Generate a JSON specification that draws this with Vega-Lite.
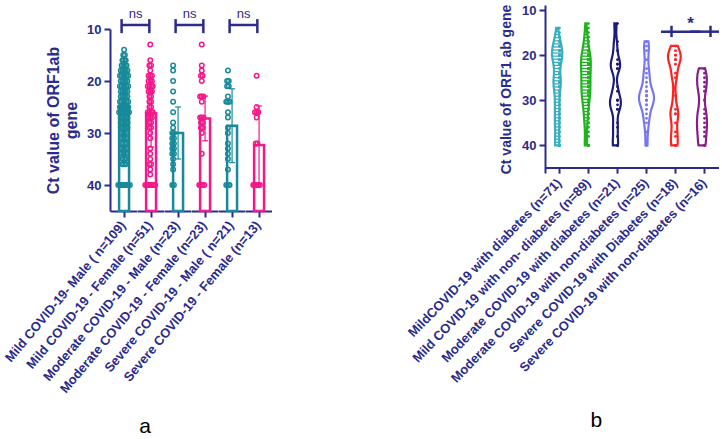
{
"$schema":"https://vega.github.io/schema/vega-lite/v6.json",
"background":"white",
"padding":{"left":3,"top":3,"right":3,"bottom":3},
"config":{"view":{"stroke":null},"font":"Liberation Sans","axis":{"grid":false}},
"spacing":134,
"resolve":{"scale":{"color":"independent","stroke":"independent"}},
"datasets":{
"L":[
{"k":"b","g":"A","m":25.0,"lo":19.5,"hi":30.5},{"k":"b","g":"B","m":26.2,"lo":19.7,"hi":32.7},{"k":"b","g":"C","m":30.0,"lo":25.0,"hi":35.0},{"k":"b","g":"D","m":27.2,"lo":22.9,"hi":31.5},{"k":"b","g":"E","m":28.6,"lo":21.5,"hi":35.7},{"k":"b","g":"F","m":32.3,"lo":24.8,"hi":39.8},
{"k":"r","g":"A","lab":"ns"},{"k":"r","g":"C","lab":"ns"},{"k":"r","g":"E","lab":"ns"},
{"k":"p","g":"A","ct":14},{"k":"p","g":"A","ct":15},{"k":"p","g":"A","ct":15},{"k":"p","g":"A","ct":16},{"k":"p","g":"A","ct":16},{"k":"p","g":"A","ct":16},{"k":"p","g":"A","ct":17},{"k":"p","g":"A","ct":17},{"k":"p","g":"A","ct":17},{"k":"p","g":"A","ct":17},
{"k":"p","g":"A","ct":18},{"k":"p","g":"A","ct":18},{"k":"p","g":"A","ct":18},{"k":"p","g":"A","ct":18},{"k":"p","g":"A","ct":18},{"k":"p","g":"A","ct":19},{"k":"p","g":"A","ct":19},{"k":"p","g":"A","ct":19},{"k":"p","g":"A","ct":19},{"k":"p","g":"A","ct":19},{"k":"p","g":"A","ct":19},
{"k":"p","g":"A","ct":20},{"k":"p","g":"A","ct":20},{"k":"p","g":"A","ct":20},{"k":"p","g":"A","ct":20},{"k":"p","g":"A","ct":20},{"k":"p","g":"A","ct":21},{"k":"p","g":"A","ct":21},{"k":"p","g":"A","ct":21},{"k":"p","g":"A","ct":21},{"k":"p","g":"A","ct":21},{"k":"p","g":"A","ct":21},
{"k":"p","g":"A","ct":22},{"k":"p","g":"A","ct":22},{"k":"p","g":"A","ct":22},{"k":"p","g":"A","ct":22},{"k":"p","g":"A","ct":22},{"k":"p","g":"A","ct":23},{"k":"p","g":"A","ct":23},{"k":"p","g":"A","ct":23},{"k":"p","g":"A","ct":23},{"k":"p","g":"A","ct":23},
{"k":"p","g":"A","ct":24},{"k":"p","g":"A","ct":24},{"k":"p","g":"A","ct":24},{"k":"p","g":"A","ct":24},{"k":"p","g":"A","ct":24},{"k":"p","g":"A","ct":24},{"k":"p","g":"A","ct":25},{"k":"p","g":"A","ct":25},{"k":"p","g":"A","ct":25},{"k":"p","g":"A","ct":25},{"k":"p","g":"A","ct":25},{"k":"p","g":"A","ct":25},
{"k":"p","g":"A","ct":26},{"k":"p","g":"A","ct":26},{"k":"p","g":"A","ct":26},{"k":"p","g":"A","ct":26},{"k":"p","g":"A","ct":26},{"k":"p","g":"A","ct":26},{"k":"p","g":"A","ct":26},{"k":"p","g":"A","ct":27},{"k":"p","g":"A","ct":27},{"k":"p","g":"A","ct":27},{"k":"p","g":"A","ct":27},{"k":"p","g":"A","ct":27},
{"k":"p","g":"A","ct":28},{"k":"p","g":"A","ct":28},{"k":"p","g":"A","ct":28},{"k":"p","g":"A","ct":28},{"k":"p","g":"A","ct":28},{"k":"p","g":"A","ct":29},{"k":"p","g":"A","ct":29},{"k":"p","g":"A","ct":29},{"k":"p","g":"A","ct":29},{"k":"p","g":"A","ct":29},
{"k":"p","g":"A","ct":30},{"k":"p","g":"A","ct":30},{"k":"p","g":"A","ct":30},{"k":"p","g":"A","ct":30},{"k":"p","g":"A","ct":31},{"k":"p","g":"A","ct":31},{"k":"p","g":"A","ct":31},{"k":"p","g":"A","ct":31},{"k":"p","g":"A","ct":32},{"k":"p","g":"A","ct":32},{"k":"p","g":"A","ct":32},
{"k":"p","g":"A","ct":33},{"k":"p","g":"A","ct":33},{"k":"p","g":"A","ct":33},{"k":"p","g":"A","ct":33},{"k":"p","g":"A","ct":34},{"k":"p","g":"A","ct":34},{"k":"p","g":"A","ct":34},{"k":"p","g":"A","ct":34},{"k":"p","g":"A","ct":35},{"k":"p","g":"A","ct":35},{"k":"p","g":"A","ct":35},
{"k":"p","g":"A","ct":36},{"k":"p","g":"A","ct":36},{"k":"p","g":"A","ct":36},{"k":"p","g":"A","ct":40},{"k":"p","g":"A","ct":40},{"k":"p","g":"A","ct":40},{"k":"p","g":"A","ct":40},{"k":"p","g":"A","ct":40},{"k":"p","g":"A","ct":40},{"k":"p","g":"A","ct":40},{"k":"p","g":"A","ct":40},
{"k":"p","g":"B","ct":13},{"k":"p","g":"B","ct":16},{"k":"p","g":"B","ct":17},{"k":"p","g":"B","ct":17},{"k":"p","g":"B","ct":18},{"k":"p","g":"B","ct":19},{"k":"p","g":"B","ct":19},{"k":"p","g":"B","ct":19},{"k":"p","g":"B","ct":20},{"k":"p","g":"B","ct":20},{"k":"p","g":"B","ct":20},
{"k":"p","g":"B","ct":21},{"k":"p","g":"B","ct":21},{"k":"p","g":"B","ct":21},{"k":"p","g":"B","ct":21},{"k":"p","g":"B","ct":22},{"k":"p","g":"B","ct":22},{"k":"p","g":"B","ct":22},{"k":"p","g":"B","ct":23},{"k":"p","g":"B","ct":23},{"k":"p","g":"B","ct":24},{"k":"p","g":"B","ct":24},
{"k":"p","g":"B","ct":25},{"k":"p","g":"B","ct":25},{"k":"p","g":"B","ct":26},{"k":"p","g":"B","ct":26},{"k":"p","g":"B","ct":26},{"k":"p","g":"B","ct":26},{"k":"p","g":"B","ct":27},{"k":"p","g":"B","ct":27},{"k":"p","g":"B","ct":27},{"k":"p","g":"B","ct":28},{"k":"p","g":"B","ct":28},
{"k":"p","g":"B","ct":29},{"k":"p","g":"B","ct":29},{"k":"p","g":"B","ct":30},{"k":"p","g":"B","ct":31},{"k":"p","g":"B","ct":33},{"k":"p","g":"B","ct":34},{"k":"p","g":"B","ct":35},{"k":"p","g":"B","ct":36},{"k":"p","g":"B","ct":36},{"k":"p","g":"B","ct":37},{"k":"p","g":"B","ct":38},
{"k":"p","g":"B","ct":40},{"k":"p","g":"B","ct":40},{"k":"p","g":"B","ct":40},{"k":"p","g":"B","ct":40},{"k":"p","g":"B","ct":40},{"k":"p","g":"B","ct":40},{"k":"p","g":"B","ct":40},
{"k":"p","g":"C","ct":17},{"k":"p","g":"C","ct":18},{"k":"p","g":"C","ct":20},{"k":"p","g":"C","ct":22},{"k":"p","g":"C","ct":24},{"k":"p","g":"C","ct":26},{"k":"p","g":"C","ct":28},{"k":"p","g":"C","ct":29},{"k":"p","g":"C","ct":30},{"k":"p","g":"C","ct":30},{"k":"p","g":"C","ct":31},{"k":"p","g":"C","ct":31},
{"k":"p","g":"C","ct":32},{"k":"p","g":"C","ct":32},{"k":"p","g":"C","ct":33},{"k":"p","g":"C","ct":33},{"k":"p","g":"C","ct":34},{"k":"p","g":"C","ct":34},{"k":"p","g":"C","ct":35},{"k":"p","g":"C","ct":36},{"k":"p","g":"C","ct":37},{"k":"p","g":"C","ct":40},{"k":"p","g":"C","ct":40},
{"k":"p","g":"D","ct":13},{"k":"p","g":"D","ct":17},{"k":"p","g":"D","ct":18},{"k":"p","g":"D","ct":19},{"k":"p","g":"D","ct":19},{"k":"p","g":"D","ct":20},{"k":"p","g":"D","ct":23},{"k":"p","g":"D","ct":23},{"k":"p","g":"D","ct":23},{"k":"p","g":"D","ct":24},{"k":"p","g":"D","ct":27},{"k":"p","g":"D","ct":27},
{"k":"p","g":"D","ct":27},{"k":"p","g":"D","ct":28},{"k":"p","g":"D","ct":28},{"k":"p","g":"D","ct":29},{"k":"p","g":"D","ct":29},{"k":"p","g":"D","ct":30},{"k":"p","g":"D","ct":34},{"k":"p","g":"D","ct":40},{"k":"p","g":"D","ct":40},{"k":"p","g":"D","ct":40},{"k":"p","g":"D","ct":40},
{"k":"p","g":"E","ct":18},{"k":"p","g":"E","ct":20},{"k":"p","g":"E","ct":20},{"k":"p","g":"E","ct":21},{"k":"p","g":"E","ct":21},{"k":"p","g":"E","ct":23},{"k":"p","g":"E","ct":24},{"k":"p","g":"E","ct":24},{"k":"p","g":"E","ct":24},{"k":"p","g":"E","ct":26},{"k":"p","g":"E","ct":27},
{"k":"p","g":"E","ct":29},{"k":"p","g":"E","ct":30},{"k":"p","g":"E","ct":32},{"k":"p","g":"E","ct":33},{"k":"p","g":"E","ct":34},{"k":"p","g":"E","ct":35},{"k":"p","g":"E","ct":37},{"k":"p","g":"E","ct":40},{"k":"p","g":"E","ct":40},{"k":"p","g":"E","ct":40},
{"k":"p","g":"F","ct":19},{"k":"p","g":"F","ct":25},{"k":"p","g":"F","ct":26},{"k":"p","g":"F","ct":26},{"k":"p","g":"F","ct":26},{"k":"p","g":"F","ct":27},{"k":"p","g":"F","ct":32},{"k":"p","g":"F","ct":32},{"k":"p","g":"F","ct":40},{"k":"p","g":"F","ct":40},{"k":"p","g":"F","ct":40},{"k":"p","g":"F","ct":40},{"k":"p","g":"F","ct":40}
],
"R":[
{"k":"bl","g":"E","lab":"*"},{"k":"br","g":"F"},
{"k":"p","g":"A","ct":14},{"k":"p","g":"A","ct":15},{"k":"p","g":"A","ct":16},{"k":"p","g":"A","ct":16},{"k":"p","g":"A","ct":17},{"k":"p","g":"A","ct":17},{"k":"p","g":"A","ct":17},{"k":"p","g":"A","ct":18},{"k":"p","g":"A","ct":18},{"k":"p","g":"A","ct":18},{"k":"p","g":"A","ct":18},
{"k":"p","g":"A","ct":19},{"k":"p","g":"A","ct":19},{"k":"p","g":"A","ct":19},{"k":"p","g":"A","ct":19},{"k":"p","g":"A","ct":19},{"k":"p","g":"A","ct":20},{"k":"p","g":"A","ct":20},{"k":"p","g":"A","ct":20},{"k":"p","g":"A","ct":20},{"k":"p","g":"A","ct":20},{"k":"p","g":"A","ct":20},
{"k":"p","g":"A","ct":21},{"k":"p","g":"A","ct":21},{"k":"p","g":"A","ct":21},{"k":"p","g":"A","ct":21},{"k":"p","g":"A","ct":22},{"k":"p","g":"A","ct":22},{"k":"p","g":"A","ct":22},{"k":"p","g":"A","ct":23},{"k":"p","g":"A","ct":23},{"k":"p","g":"A","ct":24},{"k":"p","g":"A","ct":24},
{"k":"p","g":"A","ct":25},{"k":"p","g":"A","ct":25},{"k":"p","g":"A","ct":25},{"k":"p","g":"A","ct":26},{"k":"p","g":"A","ct":26},{"k":"p","g":"A","ct":26},{"k":"p","g":"A","ct":26},{"k":"p","g":"A","ct":26},{"k":"p","g":"A","ct":27},{"k":"p","g":"A","ct":27},{"k":"p","g":"A","ct":27},
{"k":"p","g":"A","ct":28},{"k":"p","g":"A","ct":28},{"k":"p","g":"A","ct":29},{"k":"p","g":"A","ct":29},{"k":"p","g":"A","ct":30},{"k":"p","g":"A","ct":30},{"k":"p","g":"A","ct":31},{"k":"p","g":"A","ct":31},{"k":"p","g":"A","ct":32},{"k":"p","g":"A","ct":32},
{"k":"p","g":"A","ct":33},{"k":"p","g":"A","ct":33},{"k":"p","g":"A","ct":34},{"k":"p","g":"A","ct":34},{"k":"p","g":"A","ct":35},{"k":"p","g":"A","ct":35},{"k":"p","g":"A","ct":36},{"k":"p","g":"A","ct":36},{"k":"p","g":"A","ct":37},{"k":"p","g":"A","ct":37},
{"k":"p","g":"A","ct":38},{"k":"p","g":"A","ct":39},{"k":"p","g":"A","ct":40},{"k":"p","g":"A","ct":40},{"k":"p","g":"A","ct":40},{"k":"p","g":"A","ct":40},{"k":"p","g":"A","ct":40},
{"k":"p","g":"B","ct":13},{"k":"p","g":"B","ct":14},{"k":"p","g":"B","ct":15},{"k":"p","g":"B","ct":16},{"k":"p","g":"B","ct":16},{"k":"p","g":"B","ct":17},{"k":"p","g":"B","ct":17},{"k":"p","g":"B","ct":18},{"k":"p","g":"B","ct":18},{"k":"p","g":"B","ct":18},
{"k":"p","g":"B","ct":19},{"k":"p","g":"B","ct":19},{"k":"p","g":"B","ct":19},{"k":"p","g":"B","ct":19},{"k":"p","g":"B","ct":20},{"k":"p","g":"B","ct":20},{"k":"p","g":"B","ct":20},{"k":"p","g":"B","ct":20},{"k":"p","g":"B","ct":20},
{"k":"p","g":"B","ct":21},{"k":"p","g":"B","ct":21},{"k":"p","g":"B","ct":21},{"k":"p","g":"B","ct":21},{"k":"p","g":"B","ct":21},{"k":"p","g":"B","ct":21},{"k":"p","g":"B","ct":22},{"k":"p","g":"B","ct":22},{"k":"p","g":"B","ct":22},{"k":"p","g":"B","ct":22},{"k":"p","g":"B","ct":22},{"k":"p","g":"B","ct":22},
{"k":"p","g":"B","ct":23},{"k":"p","g":"B","ct":23},{"k":"p","g":"B","ct":23},{"k":"p","g":"B","ct":23},{"k":"p","g":"B","ct":23},{"k":"p","g":"B","ct":24},{"k":"p","g":"B","ct":24},{"k":"p","g":"B","ct":24},{"k":"p","g":"B","ct":24},{"k":"p","g":"B","ct":24},
{"k":"p","g":"B","ct":25},{"k":"p","g":"B","ct":25},{"k":"p","g":"B","ct":25},{"k":"p","g":"B","ct":25},{"k":"p","g":"B","ct":25},{"k":"p","g":"B","ct":26},{"k":"p","g":"B","ct":26},{"k":"p","g":"B","ct":26},{"k":"p","g":"B","ct":26},{"k":"p","g":"B","ct":26},
{"k":"p","g":"B","ct":27},{"k":"p","g":"B","ct":27},{"k":"p","g":"B","ct":27},{"k":"p","g":"B","ct":27},{"k":"p","g":"B","ct":27},{"k":"p","g":"B","ct":28},{"k":"p","g":"B","ct":28},{"k":"p","g":"B","ct":28},{"k":"p","g":"B","ct":28},{"k":"p","g":"B","ct":28},
{"k":"p","g":"B","ct":29},{"k":"p","g":"B","ct":29},{"k":"p","g":"B","ct":29},{"k":"p","g":"B","ct":29},{"k":"p","g":"B","ct":29},{"k":"p","g":"B","ct":30},{"k":"p","g":"B","ct":30},{"k":"p","g":"B","ct":30},{"k":"p","g":"B","ct":30},
{"k":"p","g":"B","ct":31},{"k":"p","g":"B","ct":31},{"k":"p","g":"B","ct":31},{"k":"p","g":"B","ct":32},{"k":"p","g":"B","ct":32},{"k":"p","g":"B","ct":32},{"k":"p","g":"B","ct":33},{"k":"p","g":"B","ct":33},{"k":"p","g":"B","ct":34},{"k":"p","g":"B","ct":34},
{"k":"p","g":"B","ct":35},{"k":"p","g":"B","ct":35},{"k":"p","g":"B","ct":36},{"k":"p","g":"B","ct":37},{"k":"p","g":"B","ct":38},{"k":"p","g":"B","ct":40},{"k":"p","g":"B","ct":40},{"k":"p","g":"B","ct":40},{"k":"p","g":"B","ct":40},
{"k":"p","g":"C","ct":13},{"k":"p","g":"C","ct":17},{"k":"p","g":"C","ct":19},{"k":"p","g":"C","ct":21},{"k":"p","g":"C","ct":22},{"k":"p","g":"C","ct":22},{"k":"p","g":"C","ct":23},{"k":"p","g":"C","ct":23},{"k":"p","g":"C","ct":27},{"k":"p","g":"C","ct":28},{"k":"p","g":"C","ct":30},
{"k":"p","g":"C","ct":30},{"k":"p","g":"C","ct":30},{"k":"p","g":"C","ct":31},{"k":"p","g":"C","ct":32},{"k":"p","g":"C","ct":32},{"k":"p","g":"C","ct":35},{"k":"p","g":"C","ct":36},{"k":"p","g":"C","ct":38},{"k":"p","g":"C","ct":40},{"k":"p","g":"C","ct":40},
{"k":"p","g":"D","ct":17},{"k":"p","g":"D","ct":18},{"k":"p","g":"D","ct":19},{"k":"p","g":"D","ct":21},{"k":"p","g":"D","ct":23},{"k":"p","g":"D","ct":24},{"k":"p","g":"D","ct":25},{"k":"p","g":"D","ct":26},{"k":"p","g":"D","ct":27},{"k":"p","g":"D","ct":28},{"k":"p","g":"D","ct":28},{"k":"p","g":"D","ct":29},{"k":"p","g":"D","ct":29},
{"k":"p","g":"D","ct":29},{"k":"p","g":"D","ct":30},{"k":"p","g":"D","ct":30},{"k":"p","g":"D","ct":30},{"k":"p","g":"D","ct":31},{"k":"p","g":"D","ct":31},{"k":"p","g":"D","ct":32},{"k":"p","g":"D","ct":33},{"k":"p","g":"D","ct":34},{"k":"p","g":"D","ct":35},{"k":"p","g":"D","ct":37},{"k":"p","g":"D","ct":40},
{"k":"p","g":"E","ct":18},{"k":"p","g":"E","ct":19},{"k":"p","g":"E","ct":20},{"k":"p","g":"E","ct":20},{"k":"p","g":"E","ct":21},{"k":"p","g":"E","ct":21},{"k":"p","g":"E","ct":22},{"k":"p","g":"E","ct":24},{"k":"p","g":"E","ct":25},
{"k":"p","g":"E","ct":29},{"k":"p","g":"E","ct":32},{"k":"p","g":"E","ct":33},{"k":"p","g":"E","ct":33},{"k":"p","g":"E","ct":35},{"k":"p","g":"E","ct":37},{"k":"p","g":"E","ct":38},{"k":"p","g":"E","ct":40},{"k":"p","g":"E","ct":40},
{"k":"p","g":"F","ct":23},{"k":"p","g":"F","ct":24},{"k":"p","g":"F","ct":25},{"k":"p","g":"F","ct":26},{"k":"p","g":"F","ct":27},{"k":"p","g":"F","ct":28},{"k":"p","g":"F","ct":30},{"k":"p","g":"F","ct":32},
{"k":"p","g":"F","ct":33},{"k":"p","g":"F","ct":34},{"k":"p","g":"F","ct":35},{"k":"p","g":"F","ct":36},{"k":"p","g":"F","ct":37},{"k":"p","g":"F","ct":38},{"k":"p","g":"F","ct":40},{"k":"p","g":"F","ct":40}
]
},
"hconcat":[
{
"data":{"name":"L"},
"title":{"text":"a","orient":"bottom","anchor":"start","dx":136,"offset":20,"fontSize":21,"fontWeight":"normal","color":"black","font":"Liberation Sans"},
"spacing":0,
"bounds":"flush",
"facet":{"column":{"field":"g","type":"nominal","title":null,"header":{"labelOrient":"bottom","labelAngle":-50,"labelAlign":"right","labelBaseline":"middle","labelPadding":5,"labelFont":"Liberation Sans","labelFontSize":13,"labelFontWeight":"bold","labelColor":"#2b2b8c","labelExpr":"datum.value=='A'?'Mild COVID-19- Male ( n=109)':datum.value=='B'?'Mild COVID-19 - Female (n=51)':datum.value=='C'?'Moderate COVID-19 - Male (n=23)':datum.value=='D'?'Moderate COVID-19 - Female (n=23)':datum.value=='E'?'Severe COVID-19 - Male ( n=21)':'Severe COVID-19 - Female (n=13)'"}}},
"spec":{
"width":26.5,"height":208,
"layer":[
{"transform":[{"filter":"datum.k=='b'"}],
 "mark":{"type":"bar","filled":false,"strokeWidth":2.5},
 "encoding":{
  "x":{"datum":1.5,"type":"quantitative","scale":{"domain":[-2.125,11.125]},"axis":{"values":[4.5],"labels":false,"title":null,"domainColor":"#2b2b8c","domainWidth":2,"tickColor":"#2b2b8c","tickWidth":2,"tickSize":6}},
  "x2":{"datum":7.5},
  "y":{"field":"m","type":"quantitative","scale":{"domain":[10,45],"range":[26,208],"nice":false,"zero":false},"axis":{"values":[10,20,30,40],"title":["Ct value of ORF1ab","gene"],"titleFont":"Liberation Sans","titleFontSize":16,"titleFontWeight":"bold","titleColor":"#2b2b8c","titlePadding":7,"labelFont":"Liberation Sans","labelFontSize":13,"labelFontWeight":"bold","labelColor":"#2b2b8c","labelPadding":3,"domainColor":"#2b2b8c","domainWidth":2,"tickColor":"#2b2b8c","tickWidth":2,"tickSize":6}},
  "y2":{"datum":45},
  "stroke":{"field":"g","type":"nominal","scale":{"domain":["A","B","C","D","E","F"],"range":["#188a9a","#f5188a","#188a9a","#f5188a","#188a9a","#f5188a"]},"legend":null}
 }},
{"transform":[{"filter":"datum.k=='b'"}],
 "mark":{"type":"rule","strokeWidth":1.2},
 "encoding":{"x":{"datum":4.5,"type":"quantitative"},"y":{"field":"lo","type":"quantitative"},"y2":{"field":"hi"},"color":{"field":"g","type":"nominal","scale":{"domain":["A","B","C","D","E","F"],"range":["#188a9a","#f5188a","#188a9a","#f5188a","#188a9a","#f5188a"]},"legend":null}}},
{"transform":[{"filter":"datum.k=='b'"}],
 "mark":{"type":"rule","strokeWidth":1.2},
 "encoding":{"x":{"datum":2.7,"type":"quantitative"},"x2":{"datum":6.3},"y":{"field":"hi","type":"quantitative"},"color":{"field":"g","type":"nominal","legend":null}}},
{"transform":[{"filter":"datum.k=='b'"}],
 "mark":{"type":"rule","strokeWidth":1.2},
 "encoding":{"x":{"datum":2.7,"type":"quantitative"},"x2":{"datum":6.3},"y":{"field":"lo","type":"quantitative"},"color":{"field":"g","type":"nominal","legend":null}}},
{"transform":[{"filter":"datum.k=='p'"},{"window":[{"op":"row_number","as":"rid"}],"groupby":["g"]}],
 "mark":{"type":"point","shape":"circle","filled":false,"strokeWidth":1.5,"size":20,"opacity":1},
 "encoding":{"x":{"aggregate":"count","type":"quantitative","stack":"center"},"y":{"field":"ct","type":"quantitative"},"detail":{"field":"rid","type":"nominal"},"color":{"field":"g","type":"nominal","legend":null}}},
{"transform":[{"filter":"datum.k=='r'"}],
 "mark":{"type":"rule","strokeWidth":2.5,"color":"#2b2b8c"},
 "encoding":{"x":{"datum":3.0,"type":"quantitative"},"x2":{"datum":19.75},"y":{"datum":9.23,"type":"quantitative"}}},
{"transform":[{"filter":"datum.k=='r'"}],
 "mark":{"type":"rule","strokeWidth":2.5,"color":"#2b2b8c"},
 "encoding":{"x":{"datum":3.0,"type":"quantitative"},"y":{"datum":8.1,"type":"quantitative"},"y2":{"datum":10.8}}},
{"transform":[{"filter":"datum.k=='r'"}],
 "mark":{"type":"rule","strokeWidth":2.5,"color":"#2b2b8c"},
 "encoding":{"x":{"datum":19.75,"type":"quantitative"},"y":{"datum":8.1,"type":"quantitative"},"y2":{"datum":10.8}}},
{"transform":[{"filter":"datum.k=='r'"}],
 "mark":{"type":"text","fontSize":13,"color":"#2b2b8c","font":"Liberation Sans","baseline":"middle"},
 "encoding":{"x":{"datum":11.4,"type":"quantitative"},"y":{"datum":7.2,"type":"quantitative"},"text":{"field":"lab"}}}
]}
},
{
"data":{"name":"R"},
"title":{"text":"b","orient":"bottom","anchor":"start","dx":184,"offset":24,"fontSize":21,"fontWeight":"normal","color":"black","font":"Liberation Sans"},
"spacing":0,
"bounds":"flush",
"facet":{"column":{"field":"g","type":"nominal","title":null,"header":{"labelOrient":"bottom","labelAngle":-46,"labelAlign":"right","labelBaseline":"middle","labelPadding":8,"labelFont":"Liberation Sans","labelFontSize":13,"labelFontWeight":"bold","labelColor":"#2b2b8c","labelExpr":"datum.value=='A'?'MildCOVID-19 with diabetes (n=71)':datum.value=='B'?'Mild COVID-19 with non- diabetes (n=89)':datum.value=='C'?'Moderate COVID-19 with diabetes (n=21)':datum.value=='D'?'Moderate COVID-19 with non-diabetes (n=25)':datum.value=='E'?'Severe COVID-19 with Diabetes (n=18)':'Severe COVID-19 with non-diabetes (n=16)'"}}},
"spec":{
"width":29,"height":170,
"layer":[
{"transform":[{"filter":"datum.k=='p'"},{"joinaggregate":[{"op":"min","field":"ct","as":"mn"},{"op":"max","field":"ct","as":"mx"},{"op":"count","as":"n"}],"groupby":["g"]},{"density":"ct","groupby":["g","mn","mx","n"],"bandwidth":1.5,"extent":[10,40],"steps":151},{"filter":"datum.value>=datum.mn-0.1 && datum.value<=datum.mx+0.1"}],
 "mark":{"type":"area","orient":"horizontal","fill":"white","strokeWidth":2.2,"interpolate":"monotone"},
 "encoding":{
  "x":{"field":"density","type":"quantitative","stack":"center","impute":null,"scale":{"padding":7,"nice":false,"zero":false},"axis":null},
  "y":{"field":"value","type":"quantitative","scale":{"domain":[10,45],"range":[2,170],"nice":false,"zero":false},"axis":{"values":[10,20,30,40],"title":"Ct value of ORF1 ab gene","titleFont":"Liberation Sans","titleFontSize":14,"titleFontWeight":"bold","titleColor":"#2b2b8c","titlePadding":8,"labelFont":"Liberation Sans","labelFontSize":13,"labelFontWeight":"bold","labelColor":"#2b2b8c","labelPadding":3,"domainColor":"#2b2b8c","domainWidth":2,"tickColor":"#2b2b8c","tickWidth":2,"tickSize":6}},
  "stroke":{"field":"g","type":"nominal","scale":{"domain":["A","B","C","D","E","F"],"range":["#38aec0","#1fb41f","#1c1c7c","#7676f2","#ff2020","#871f8a"]},"legend":null}
 }},
{"transform":[{"filter":"datum.k=='p'"},{"joinaggregate":[{"op":"min","field":"ct","as":"mn"},{"op":"max","field":"ct","as":"mx"},{"op":"count","as":"n"}],"groupby":["g"]},{"density":"ct","groupby":["g","mn","mx","n"],"bandwidth":1.5,"extent":[10,40],"steps":44},{"filter":"datum.value>=datum.mn && datum.value<=datum.mx-0.3"}],
 "mark":{"type":"bar","orient":"horizontal","size":1.3},
 "encoding":{"x":{"field":"density","type":"quantitative","stack":"center","impute":null,"axis":null},"y":{"field":"value","type":"quantitative"},"opacity":{"condition":{"test":"datum.n>50","value":1},"value":0},"color":{"field":"g","type":"nominal","scale":{"domain":["A","B","C","D","E","F"],"range":["#38aec0","#1fb41f","#1c1c7c","#7676f2","#ff2020","#871f8a"]},"legend":null}}},
{"transform":[{"filter":"datum.k=='p'"}],
 "mark":{"type":"circle","size":8,"opacity":1},
 "encoding":{"y":{"field":"ct","type":"quantitative"},"color":{"field":"g","type":"nominal","legend":null}}},
{"transform":[{"filter":"datum.k=='p'"},{"aggregate":[{"op":"count","as":"c"}],"groupby":["g"]}],
 "mark":{"type":"rule","strokeWidth":2,"color":"#2b2b8c"},
 "encoding":{"y":{"datum":45,"type":"quantitative"},"y2":{"datum":46.25}}},
{"transform":[{"filter":"datum.k=='p'"},{"aggregate":[{"op":"count","as":"c"}],"groupby":["g"]}],
 "mark":{"type":"rule","strokeWidth":2,"color":"#2b2b8c"},
 "encoding":{"y":{"datum":45,"type":"quantitative"}}},
{"transform":[{"filter":"datum.k=='bl'"}],
 "mark":{"type":"rule","strokeWidth":2.5,"color":"#2b2b8c","xOffset":10.5},
 "encoding":{"y":{"datum":14.8,"type":"quantitative"}}},
{"transform":[{"filter":"datum.k=='br'"}],
 "mark":{"type":"rule","strokeWidth":2.5,"color":"#2b2b8c","x2Offset":-8.5},
 "encoding":{"y":{"datum":14.8,"type":"quantitative"}}},
{"transform":[{"filter":"datum.k=='bl'"}],
 "mark":{"type":"rule","strokeWidth":2.5,"color":"#2b2b8c","xOffset":-4},
 "encoding":{"y":{"datum":13.5,"type":"quantitative"},"y2":{"datum":16.0}}},
{"transform":[{"filter":"datum.k=='br'"}],
 "mark":{"type":"rule","strokeWidth":2.5,"color":"#2b2b8c","xOffset":6},
 "encoding":{"y":{"datum":13.5,"type":"quantitative"},"y2":{"datum":16.0}}},
{"transform":[{"filter":"datum.k=='bl'"}],
 "mark":{"type":"text","fontSize":17,"fontWeight":"bold","color":"#2b2b8c","font":"Liberation Sans","baseline":"middle","dx":15},
 "encoding":{"y":{"datum":13.0,"type":"quantitative"},"text":{"field":"lab"}}}
]}
}
]
}
